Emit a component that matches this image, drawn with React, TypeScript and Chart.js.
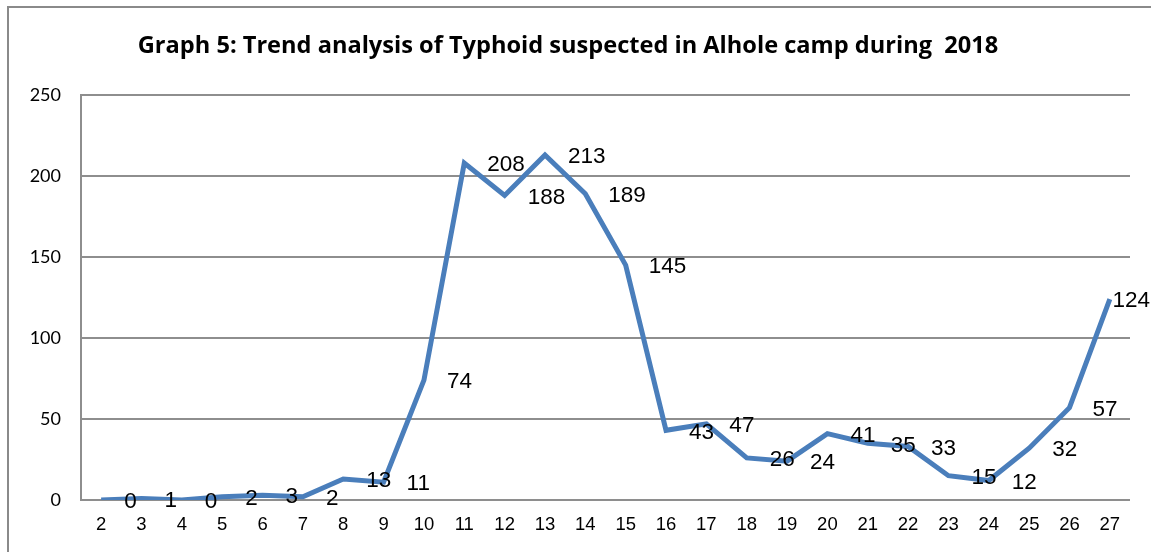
import React, { useEffect, useRef } from "react";
import { Chart, registerables } from "chart.js";

Chart.register(...registerables);

const TITLE = "Graph 5: Trend analysis of Typhoid suspected in Alhole camp during  2018";
const WEEKS = ["2","3","4","5","6","7","8","9","10","11","12","13","14","15","16","17","18","19","20","21","22","23","24","25","26","27"];
const CASES = [0,1,0,2,3,2,13,11,74,208,188,213,189,145,43,47,26,24,41,35,33,15,12,32,57,124];
const Y_MIN = 0;
const Y_MAX = 250;
const Y_STEP = 50;

const framePlugin = {
  id: "frame",
  beforeDraw(chart: any) {
    const ctx = chart.ctx;
    ctx.save();
    ctx.fillStyle = "#ffffff";
    ctx.fillRect(0, 0, chart.width, chart.height);
    ctx.strokeStyle = "#8a8a8a";
    ctx.lineWidth = 2;
    ctx.strokeRect(8, 7, 2000, 2000);
    ctx.restore();
  },
  afterDraw(chart: any) {
    const ctx = chart.ctx;
    ctx.save();
    ctx.fillStyle = "#000";
    ctx.font = 'bold 23.6px "Open Sans"';
    ctx.textAlign = "center";
    ctx.textBaseline = "middle";
    ctx.fillText(TITLE, 568, 46);
    ctx.restore();
  },
};

const labelPlugin = {
  id: "valueLabels",
  afterDatasetsDraw(chart: any) {
    const ctx = chart.ctx;
    const meta = chart.getDatasetMeta(0);
    ctx.save();
    ctx.fillStyle = "#000";
    ctx.font = '22.5px "Liberation Sans"';
    ctx.textAlign = "left";
    ctx.textBaseline = "middle";
    meta.data.forEach((pt: any, i: number) => {
      const text = String(CASES[i]);
      const w = ctx.measureText(text).width;
      let x = pt.x + 23;
      if (x + w > chart.width - 1) x = chart.width - 1 - w;
      ctx.fillText(text, x, pt.y + 2);
    });
    ctx.restore();
  },
};

export default function App() {
  const ref = useRef<HTMLCanvasElement>(null);
  useEffect(() => {
    if (!ref.current) return;
    const chart = new Chart(ref.current, {
      type: "line",
      data: {
        labels: WEEKS,
        datasets: [
          {
            data: CASES,
            borderColor: "#4a7ebb",
            borderWidth: 5,
            pointRadius: 0,
            tension: 0,
            fill: false,
          },
        ],
      },
      options: {
        animation: false,
        responsive: false,
        maintainAspectRatio: false,
        layout: { padding: { left: 0, top: 95, right: 21, bottom: 0 } },
        plugins: { legend: { display: false }, tooltip: { enabled: false }, title: { display: false } },
        scales: {
          x: {
            offset: true,
            grid: { display: false, drawTicks: false },
            border: { display: false },
            ticks: {
              color: "#000",
              font: { family: "Liberation Sans", size: 18.5 },
              padding: 14,
              maxRotation: 0,
              autoSkip: false,
            },
            afterFit(scale: any) {
              scale.height = 52;
            },
          },
          y: {
            min: Y_MIN,
            max: Y_MAX,
            grid: { color: "#8e8e8e", lineWidth: 2, drawTicks: false },
            border: { display: true, color: "#8e8e8e", width: 2 },
            ticks: {
              stepSize: Y_STEP,
              color: "#000",
              font: { family: "Lato", size: 18 },
              padding: 20,
            },
            afterFit(scale: any) {
              scale.width = 81;
            },
          },
        },
      },
      plugins: [framePlugin, labelPlugin],
    });
    return () => chart.destroy();
  }, []);
  return (
    <div style={{ position: "fixed", left: 0, top: 0, width: 1151, height: 552 }}>
      <canvas ref={ref} width={1151} height={552} />
    </div>
  );
}
